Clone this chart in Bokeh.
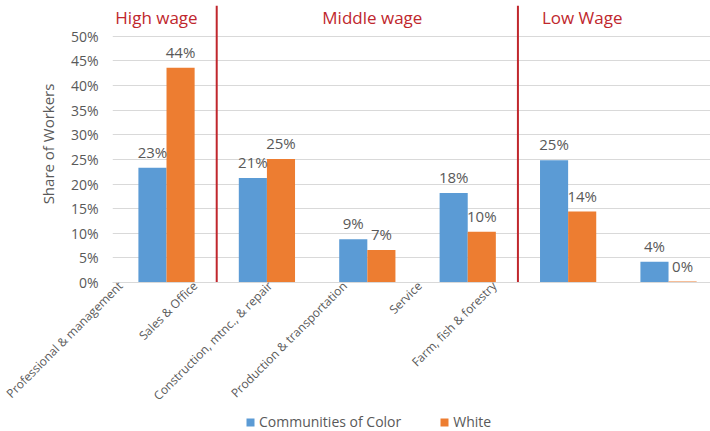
from bokeh.plotting import figure
from bokeh.layouts import column
from bokeh.models import (Range1d, FixedTicker, Legend, LegendItem, ColumnDataSource,
                          CustomJSTickFormatter)
from bokeh.core.properties import value
from bokeh.embed import file_html
from bokeh.resources import INLINE

# ---- data ----
categories = ["Professional & management", "Sales & Office", "Construction, mtnc., & repair",
              "Production & transportation", "Service", "Farm, fish & forestry"]
color_vals = [23.3, 21.2, 8.8, 18.2, 24.8, 4.2]
white_vals = [43.6, 25.1, 6.6, 10.3, 14.4, 0.2]
series_names = ["Communities of Color", "White"]
group_names = ["High wage", "Middle wage", "Low Wage"]
y_ticks = [0, 5, 10, 15, 20, 25, 30, 35, 40, 45, 50]

# ---- layout / style ----
FONT = "Open Sans"
GRAY = "#595959"
BLUE = "#5B9BD5"
ORANGE = "#ED7D31"
RED = "#C0272D"
BAR_W = 0.28
group_bounds = [0.5, 3.5]
group_title_x = [-0.1, 2.05, 4.14]
group_title_y = 53.8

n = len(categories)
idx = list(range(n))

p = figure(width=710, height=412, output_backend="svg", toolbar_location=None,
           x_range=Range1d(-0.538, 5.418), y_range=Range1d(0, 56.25),
           min_border_left=112, min_border_right=0, min_border_top=5, min_border_bottom=128)
p.outline_line_color = None
p.background_fill_color = "white"
p.border_fill_color = "white"

src_c = ColumnDataSource(dict(x=[i - BAR_W / 2 for i in idx], top=color_vals,
                              lab=[f"{round(v):.0f}%" for v in color_vals]))
src_w = ColumnDataSource(dict(x=[i + BAR_W / 2 for i in idx], top=white_vals,
                              lab=[f"{round(v):.0f}%" for v in white_vals]))

r_c = p.vbar(x="x", top="top", width=BAR_W, source=src_c, fill_color=BLUE, line_color=None)
r_w = p.vbar(x="x", top="top", width=BAR_W, source=src_w, fill_color=ORANGE, line_color=None)

for src in (src_c, src_w):
    p.text(x="x", y="top", text="lab", source=src, text_align="center", text_baseline="bottom",
           y_offset=-6, text_font=value(FONT), text_font_size="15px", text_color=GRAY)

# group separators and titles
p.segment(x0=group_bounds, x1=group_bounds, y0=[0, 0], y1=[56.25, 56.25],
          line_color=RED, line_width=2)
p.text(x=group_title_x, y=[group_title_y] * 3, text=group_names, text_align="center",
       text_baseline="middle", text_font=value(FONT), text_font_size="17px", text_color=RED)

# axes
p.yaxis.ticker = FixedTicker(ticks=y_ticks)
p.yaxis.formatter = CustomJSTickFormatter(code="return tick.toFixed(0) + '%'")
p.yaxis.axis_line_color = None
p.yaxis.major_tick_line_color = None
p.yaxis.minor_tick_line_color = None
p.yaxis.major_tick_out = 0
p.yaxis.major_tick_in = 0
p.yaxis.major_label_standoff = 14
p.yaxis.major_label_text_font = FONT
p.yaxis.major_label_text_font_size = "14px"
p.yaxis.major_label_text_color = GRAY
p.yaxis.axis_label = "Share of Workers"
p.yaxis.axis_label_text_font = FONT
p.yaxis.axis_label_text_font_style = "normal"
p.yaxis.axis_label_text_font_size = "15px"
p.yaxis.axis_label_text_color = GRAY
p.yaxis.axis_label_standoff = 10

label_ticks = [-0.46 + 0.745 * i for i in idx]
p.xaxis.ticker = FixedTicker(ticks=label_ticks)
p.xaxis.formatter = CustomJSTickFormatter(args=dict(labels=categories), code="return labels[index]")
p.xaxis.major_label_orientation = 0.785398
p.xaxis.axis_line_color = "#D9D9D9"
p.xaxis.major_tick_line_color = None
p.xaxis.minor_tick_line_color = None
p.xaxis.major_tick_out = 0
p.xaxis.major_tick_in = 0
p.xaxis.major_label_standoff = 1
p.xaxis.major_label_text_font = FONT
p.xaxis.major_label_text_font_size = "12px"
p.xaxis.major_label_text_color = GRAY

p.xgrid.grid_line_color = None
p.ygrid.grid_line_color = "#D9D9D9"

# legend strip below the chart
leg = figure(width=710, height=19, output_backend="svg", toolbar_location=None,
             x_range=Range1d(0, 1), y_range=Range1d(0, 1),
             x_axis_location=None, y_axis_location=None,
             min_border=0, min_border_left=0, min_border_right=0,
             min_border_top=0, min_border_bottom=0)
leg.outline_line_color = None
leg.background_fill_color = "white"
leg.border_fill_color = "white"
leg.xgrid.grid_line_color = None
leg.ygrid.grid_line_color = None
d_c = leg.vbar(x=[-10], top=[0], bottom=[0], width=0.01, fill_color=BLUE, line_color=None)
d_w = leg.vbar(x=[-10], top=[0], bottom=[0], width=0.01, fill_color=ORANGE, line_color=None)
legend = Legend(items=[LegendItem(label=series_names[0], renderers=[d_c]),
                       LegendItem(label=series_names[1], renderers=[d_w])],
                orientation="horizontal", location=(133, 0),
                label_text_font=FONT, label_text_font_size="14px", label_text_color=GRAY,
                glyph_width=10, glyph_height=10, label_standoff=4, spacing=38,
                padding=0, margin=0, border_line_color=None, background_fill_alpha=0)
leg.add_layout(legend, "center")

layout = column(p, leg, spacing=0)
open("out.html", "w").write(file_html(layout, INLINE))
